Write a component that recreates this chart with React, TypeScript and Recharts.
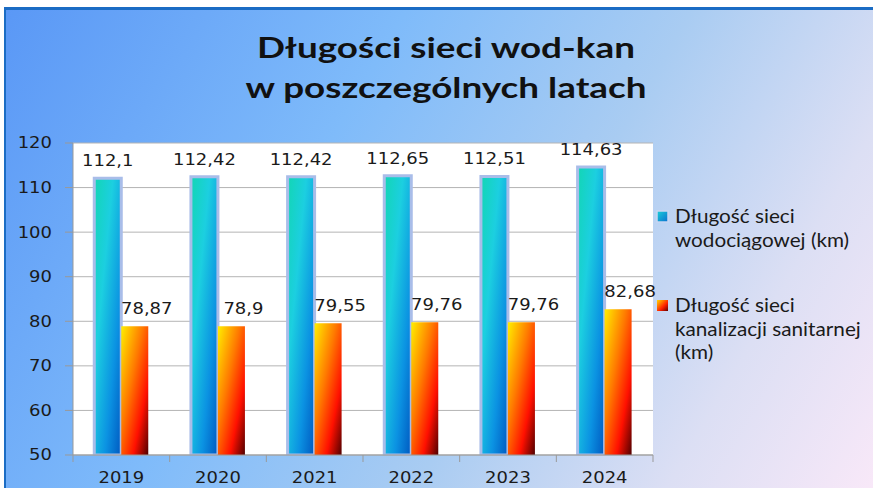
import { BarChart, Bar, XAxis, YAxis, CartesianGrid, LabelList, Legend } from 'recharts';

const YEARS = ['2019', '2020', '2021', '2022', '2023', '2024'];
const WOD = [112.1, 112.42, 112.42, 112.65, 112.51, 114.63];
const KAN = [78.87, 78.9, 79.55, 79.76, 79.76, 82.68];
const Y_TICKS = [50, 60, 70, 80, 90, 100, 110, 120];
const LEGEND_WOD = ['Długość sieci', 'wodociągowej (km)'];
const LEGEND_KAN = ['Długość sieci', 'kanalizacji sanitarnej', '(km)'];

const data = YEARS.map((year, i) => ({ year, wod: WOD[i], kan: KAN[i] }));

const fmt = (v: any) => String(v).replace('.', ',');
const TICK_FONT = 'DejaVu Sans, Verdana, sans-serif';
const SX = 1.2; // the original is stretched sideways

function Wide(props: any) {
  const { x, y, anchor = 'middle', dy = 0, children } = props;
  return (
    <text
      transform={`translate(${x},${y}) scale(${SX},1)`}
      dy={dy}
      textAnchor={anchor}
      fontSize={15}
      fontFamily={TICK_FONT}
      fill="#1a1a1a"
    >
      {children}
    </text>
  );
}

function YearTick(props: any) {
  const { x, y, payload } = props;
  const half = payload && payload.offset ? payload.offset : 48;
  const axisY = y - 17;
  const last = payload && payload.index === YEARS.length - 1;
  return (
    <g>
      <line x1={x - half} y1={axisY} x2={x - half} y2={axisY + 7} stroke="#999" />
      {last && <line x1={x + half} y1={axisY} x2={x + half} y2={axisY + 7} stroke="#999" />}
      <Wide x={x} y={y} dy="0.71em">{payload.value}</Wide>
    </g>
  );
}

function ValueTick(props: any) {
  const { x, y, payload } = props;
  return (
    <Wide x={x} y={y} anchor="end" dy="0.36em">
      {payload.value}
    </Wide>
  );
}

function barLabel(shift: number) {
  return (p: any) => {
    const { x, y, width, value } = p;
    return (
      <Wide x={Number(x) + Number(width) / 2 + shift} y={Number(y) - 12}>
        {fmt(value)}
      </Wide>
    );
  };
}

function LegendBox() {
  const items = [
    { lines: LEGEND_WOD, fill: 'url(#gWodIcon)' },
    { lines: LEGEND_KAN, fill: 'url(#gKanIcon)' },
  ];
  return (
    <div style={{ fontFamily: 'Lato, sans-serif', fontSize: 19, color: '#1a1a1a', lineHeight: '23.5px' }}>
      {items.map((it, i) => (
        <div key={i} style={{ position: 'relative', paddingLeft: 20, marginBottom: 42 }}>
          <svg width={13} height={13} style={{ position: 'absolute', left: 1, top: 6 }}>
            <defs>
              <linearGradient id="gWodIcon" x1="0" y1="0" x2="1" y2="1">
                <stop offset="0%" stopColor="#1ad0d8" />
                <stop offset="100%" stopColor="#0a6fd0" />
              </linearGradient>
              <linearGradient id="gKanIcon" x1="0" y1="0" x2="1" y2="1">
                <stop offset="0%" stopColor="#ffd800" />
                <stop offset="60%" stopColor="#ff2000" />
                <stop offset="100%" stopColor="#600000" />
              </linearGradient>
            </defs>
            <rect x={1} y={1} width={11} height={11} fill={it.fill} stroke={i === 0 ? '#c8d6f2' : 'none'} strokeWidth={1.5} />
          </svg>
          <div style={{ transform: 'scaleX(1.09)', transformOrigin: 'left top', whiteSpace: 'nowrap' }}>
            {it.lines.map((l) => (
              <div key={l}>{l}</div>
            ))}
          </div>
        </div>
      ))}
    </div>
  );
}

export default function App() {
  return (
    <div style={{ position: 'relative', width: 873, height: 488, background: '#fff', overflow: 'hidden' }}>
      <style>{'body{margin:0;overflow:hidden}'}</style>
      <div
        style={{
          position: 'absolute',
          left: 4,
          top: 7,
          right: 0,
          bottom: 0,
          borderLeft: '2px solid #1b6cc4',
          borderTop: '3px solid #1b6cc4',
          background: 'linear-gradient(120deg, #5a98f6 0%, #7fbbfa 35%, #a9ccf2 60%, #dcdff4 82%, #f8e8f8 100%)',
        }}
      />
      <div
        style={{
          position: 'absolute',
          left: 146,
          width: 600,
          top: 27,
          textAlign: 'center',
          fontFamily: 'Lato, sans-serif',
          fontWeight: 700,
          fontSize: 29,
          lineHeight: '40px',
          color: '#111',
          transform: 'scaleX(1.27)',
          transformOrigin: '300px 0',
        }}
      >
        <div>Długości sieci wod-kan</div>
        <div>w poszczególnych latach</div>
      </div>
      <div style={{ position: 'absolute', left: 0, top: 0 }}>
        <BarChart
          width={873}
          height={488}
          data={data}
          margin={{ top: 143, right: 220, bottom: 3, left: 0 }}
          barCategoryGap="22%"
          barGap={0}
          style={{ fontFamily: TICK_FONT }}
        >
          <defs>
            <linearGradient id="gWod" x1="0" y1="0" x2="1" y2="1">
              <stop offset="0%" stopColor="#12d6b4" />
              <stop offset="35%" stopColor="#1ccfe0" />
              <stop offset="70%" stopColor="#0b92e2" />
              <stop offset="100%" stopColor="#0058c0" />
            </linearGradient>
            <linearGradient id="gKan" x1="0" y1="0" x2="1" y2="1">
              <stop offset="0%" stopColor="#ffee00" />
              <stop offset="40%" stopColor="#ff7a00" />
              <stop offset="72%" stopColor="#ff1000" />
              <stop offset="100%" stopColor="#500000" />
            </linearGradient>
          </defs>
          <CartesianGrid vertical={false} stroke="#b4b4b4" fill="#fff" />
          <XAxis
            dataKey="year"
            stroke="#999"
            height={30}
            tickLine={false}
            tickSize={8}
            tickMargin={9}
            tick={<YearTick />}
            interval={0}
          />
          <YAxis
            domain={[50, 120]}
            ticks={Y_TICKS}
            width={73}
            stroke="#999"
            tickSize={8}
            tickMargin={13}
            tick={<ValueTick />}
            allowDataOverflow
          />
          <Legend
            layout="horizontal"
            align="center"
            verticalAlign="middle"
            wrapperStyle={{ left: 655, top: 204, width: 215 }}
            content={<LegendBox />}
          />
          <Bar dataKey="wod" name={LEGEND_WOD.join(' ')} fill="url(#gWod)" stroke="#a9bde9" strokeWidth={3} isAnimationActive={false}>
            <LabelList dataKey="wod" content={barLabel(0)} />
          </Bar>
          <Bar dataKey="kan" name={LEGEND_KAN.join(' ')} fill="url(#gKan)" isAnimationActive={false}>
            <LabelList dataKey="kan" content={barLabel(12)} />
          </Bar>
        </BarChart>
      </div>
    </div>
  );
}
